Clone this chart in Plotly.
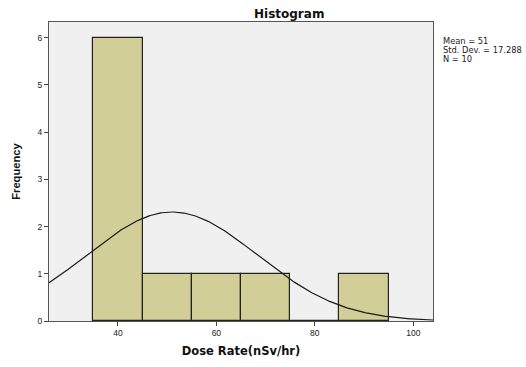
import numpy as np
import plotly.graph_objects as go

bin_centers = [40, 50, 60, 70, 80, 90]
frequencies = [6, 1, 1, 1, 0, 1]
bin_width = 10
mean_val = 51
std_dev = 17.288
n_obs = 10
x_ticks = [40, 60, 80, 100]
y_ticks = [0, 1, 2, 3, 4, 5, 6]
stats_lines = [f"Mean = {mean_val}", f"Std. Dev. = {std_dev}", f"N = {n_obs}"]

xs = np.linspace(26, 104, 300)
ys = n_obs * bin_width / (std_dev * np.sqrt(2 * np.pi)) * np.exp(-0.5 * ((xs - mean_val) / std_dev) ** 2)

fig = go.Figure()
fig.add_trace(go.Bar(
    x=bin_centers, y=frequencies, width=bin_width,
    marker=dict(color="#D2CE98", line=dict(color="#222222", width=1.2)),
    showlegend=False, hoverinfo="skip"))
fig.add_trace(go.Scatter(x=xs, y=ys, mode="lines",
                         line=dict(color="#1a1a1a", width=1.2), showlegend=False,
                         hoverinfo="skip"))

fig.update_layout(
    width=526, height=367,
    margin=dict(l=49, r=93, t=22, b=39),
    paper_bgcolor="white", plot_bgcolor="#F0F0F0",
    font=dict(family="Liberation Sans, Arial, sans-serif", color="#222222", size=8.5),
    bargap=0,
)
fig.add_annotation(text="<b>Histogram</b>", xref="paper", yref="paper", x=0.625, y=1,
                   xanchor="center", yanchor="bottom", showarrow=False, yshift=-1,
                   font=dict(family="DejaVu Sans", size=12, color="#111111"))
fig.update_xaxes(range=[26, 104], tickvals=x_ticks, ticks="outside", ticklen=4,
                 tickcolor="#444444", showgrid=False, zeroline=False,
                 showline=True, linecolor="#555555", linewidth=1, mirror=True,
                 title=dict(text="<b>Dose Rate(nSv/hr)</b>",
                            font=dict(family="DejaVu Sans", size=11.5, color="#111111"),
                            standoff=9))
fig.update_yaxes(range=[0, 6.33], tickvals=y_ticks, ticks="outside", ticklen=4,
                 tickcolor="#444444", showgrid=False, zeroline=False,
                 showline=True, linecolor="#555555", linewidth=1, mirror=True,
                 title=dict(text="<b>Frequency</b>", font=dict(size=11.2, color="#111111"),
                            standoff=14))
for i, line in enumerate(stats_lines):
    fig.add_annotation(text=line, xref="paper", yref="paper", x=1.0208, y=0.935,
                       yshift=-9 * i, xanchor="left", yanchor="middle",
                       align="left", showarrow=False,
                       font=dict(family="DejaVu Sans", size=8.3, color="#222222"))

fig.write_html("out.html", config={"displayModeBar": False},
               post_script="document.body.style.margin='0';document.body.style.overflow='hidden';")
